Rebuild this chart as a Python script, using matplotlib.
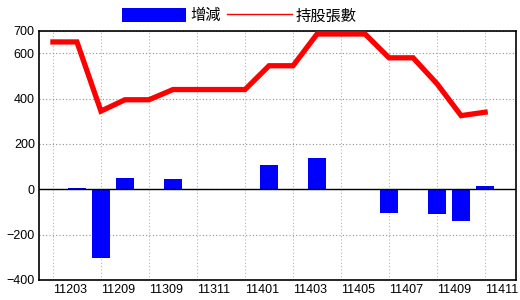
import matplotlib.pyplot as plt
from matplotlib.patches import Patch
from matplotlib.lines import Line2D

plt.rcParams['font.family'] = ['Liberation Sans Narrow', 'Liberation Sans', 'Noto Sans CJK TC', 'DejaVu Sans']

months = ["11203", "11206", "11209", "11303", "11309", "11310", "11311", "11312",
          "11401", "11402", "11403", "11404", "11405", "11406", "11407", "11408",
          "11409", "11410", "11411"]
holdings = [650, 650, 345, 395, 395, 440, 440, 440, 440, 545, 545, 685, 685, 685,
            580, 580, 465, 325, 340]
changes = [0, 5, -305, 50, 0, 45, 0, 0, 0, 105, 0, 140, 0, 0, -105, 0, -110, -140, 15]

fig = plt.figure(figsize=(5.2, 3.0), dpi=100)
ax = fig.add_axes([0.075, 0.0667, 0.918, 0.8313])

x = list(range(len(months)))
ax.bar(x, changes, width=0.75, color="#0000ff", zorder=2)
ax.plot(x, holdings, color="#ff0000", linewidth=3.8, solid_joinstyle="miter", zorder=3)
ax.axhline(0, color="black", linewidth=1, zorder=2.5)

ax.set_xlim(-0.58, 19.3)
ax.set_ylim(-400, 700)
ax.set_yticks([-400, -200, 0, 200, 400, 600, 700])
ax.set_xticks(x[::2])
ax.set_xticklabels(months[::2], ha="left")

ax.tick_params(length=0, labelsize=9, pad=3)
ax.grid(axis="x", linestyle=(0, (1, 2)), color="#a8b8c8", linewidth=0.8, zorder=0)
ax.grid(axis="y", linestyle=(0, (1, 2)), color="#909090", linewidth=0.8, zorder=0)
for s in ax.spines.values():
    s.set_color("black")
    s.set_linewidth(1.2)

handles = [Patch(facecolor="#0000ff", edgecolor="none"),
           Line2D([0], [0], color="#ff0000", linewidth=1)]
fig.legend(handles, ["增減", "持股張數"], loc="center", bbox_to_anchor=(0.46, 0.947),
           ncol=2, frameon=False, handlelength=4.2, handleheight=1.05,
           handletextpad=0.25, columnspacing=0.45,
           prop={"family": ["Noto Sans CJK TC", "DejaVu Sans"], "size": 11})

fig.savefig("out.png", dpi=100)
